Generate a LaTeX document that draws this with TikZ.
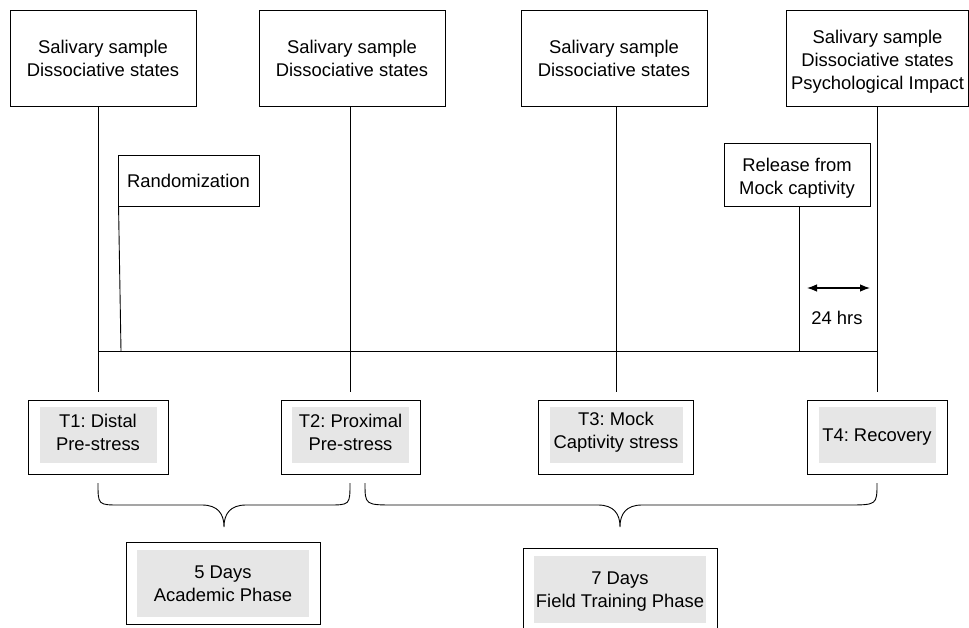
\documentclass[tikz,border=0pt]{standalone}
\usepackage{fontspec}
\setmainfont{Liberation Sans}
\usetikzlibrary{arrows.meta}
\definecolor{boxgray}{RGB}{230,230,230}
\begin{document}
\frenchspacing
\begin{tikzpicture}[x=1pt,y=-1pt,line width=0.9pt,
  every node/.style={font=\fontsize{18.4}{23}\selectfont,align=center,inner sep=0pt},
  topbox/.style={draw,minimum width=186,minimum height=96},
  smallbox/.style={draw,minimum height=51},
  tbox/.style={draw,minimum width=140,minimum height=74},
  tin/.style={fill=boxgray,minimum width=117,minimum height=56},
  phasebox/.style={draw,minimum width=194,minimum height=82},
  phasein/.style={fill=boxgray,minimum width=172,minimum height=67},
  dblarrow/.style={{Latex[length=10pt,width=7.5pt]}-{Latex[length=10pt,width=7.5pt]}}]
\useasboundingbox (0,0) rectangle (969,628);
\clip (0,0) rectangle (969,628);
% top boxes
\node[topbox] (top1) at (103,58) {Salivary sample\\Dissociative states};
\node[topbox] (top2) at (352,58) {Salivary sample\\Dissociative states};
\node[topbox] (top3) at (614,58) {Salivary sample\\Dissociative states};
\node[topbox,minimum width=182] (top4) at (877.5,58) {};
\node (top4txt) at ([yshift=-4pt]top4.center) {Salivary sample\\Dissociative states\\Psychological Impact};
% time point boxes
\node[tbox] (t1) at (98,437) {};
\node[tin] (t1in) at ([yshift=2pt]t1.center) {};
\node (t1txt) at ([yshift=3pt]t1in.center) {T1: Distal\\Pre-stress};
\node[tbox,minimum width=139] (t2) at (350.5,437) {};
\node[tin] (t2in) at ([yshift=2pt]t2.center) {};
\node (t2txt) at ([yshift=3pt]t2in.center) {T2: Proximal\\Pre-stress};
\node[tbox,minimum width=155] (t3) at (616,437) {};
\node[tin,minimum width=133] (t3in) at ([yshift=2pt]t3.center) {};
\node (t3txt) at ([yshift=3pt]t3in.center) {T3: Mock\\Captivity stress};
\node[tbox] (t4) at (877,437) {};
\node[tin] (t4in) at ([yshift=2pt]t4.center) {};
\node (t4txt) at ([yshift=-2pt]t4in.center) {T4: Recovery};
% vertical lines
\draw (t1.north |- top1.south) -- ([yshift=8pt]t1.north);
\draw (t2.north |- top2.south) -- ([yshift=8pt]t2.north);
\draw (t3.north |- top3.south) -- ([yshift=8pt]t3.north);
\draw (t4.north |- top4.south) -- ([yshift=8pt]t4.north);
% horizontal time line
\coordinate (hl) at (98,351);
\coordinate (hr) at (877,351);
\draw (hl) -- (hr);
% randomization
\node[smallbox,minimum width=141] (rand) at (188.5,180.5) {Randomization};
\coordinate (rbase) at (121,351);
\draw ([xshift=1pt]rand.south west) -- (rbase);
% release
\node[smallbox,minimum width=146,minimum height=63] (rel) at (797,174.5) {};
\node (reltxt) at ([yshift=-4pt]rel.center) {Release from\\Mock captivity};
\coordinate (relbase) at (799,351);
\draw (relbase |- rel.south) -- (relbase);
% 24 hrs
\coordinate (a1) at (807,288);
\coordinate (a2) at (870,288);
\draw[dblarrow,line width=1.1pt] (a1) -- (a2);
\node (hrs) at (837,318) {24 hrs};
% braces
\coordinate (b1l) at (98,483);
\coordinate (b1r) at (350,483);
\coordinate (b1t) at (224,527);
\draw (b1l) .. controls (98,505) and (98,505) .. (120,505) -- (202,505)
  .. controls (218,505) and (224,514) .. (b1t)
  .. controls (224,514) and (230,505) .. (246,505) -- (328,505)
  .. controls (350,505) and (350,505) .. (b1r);
\coordinate (b2l) at (365,483);
\coordinate (b2r) at (877,483);
\coordinate (b2t) at (620,527);
\draw (b2l) .. controls (365,505) and (365,505) .. (395,505) -- (598,505)
  .. controls (614,505) and (620,514) .. (b2t)
  .. controls (620,514) and (626,505) .. (642,505) -- (847,505)
  .. controls (877,505) and (877,505) .. (b2r);
% phase boxes
\node[phasebox] (p1) at (223,583) {};
\node[phasein] (p1in) at (p1.center) {};
\node (p1txt) at ([yshift=-1pt]p1in.center) {5 Days\\Academic Phase};
\node[phasebox] (p2) at (620,589) {};
\node[phasein] (p2in) at (p2.center) {};
\node (p2txt) at ([yshift=-3pt]p2in.center) {7 Days\\Field Training Phase};
\end{tikzpicture}
\end{document}
